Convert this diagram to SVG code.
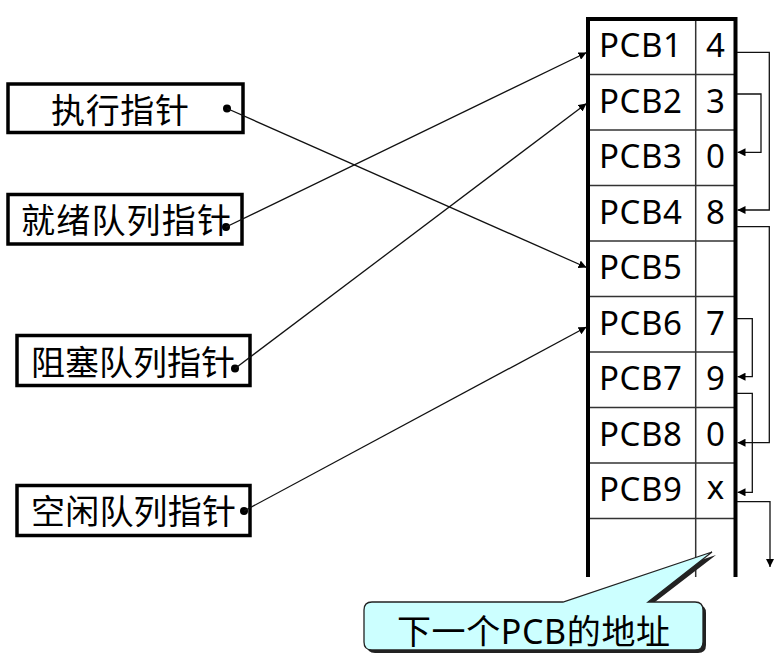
<svg xmlns="http://www.w3.org/2000/svg" width="780" height="656" viewBox="0 0 780 656">
<style>
.box{fill:#fff;stroke:#000;stroke-width:3.5}
.lbl{font-family:"Noto Sans","Noto Sans CJK SC",sans-serif;font-size:34px;fill:#000}
.cell{font-family:"Noto Sans","Noto Sans CJK SC",sans-serif;font-size:33px;fill:#000}
.val{font-family:"Noto Sans","Noto Sans CJK SC",sans-serif;font-size:33px;fill:#000;text-anchor:middle}
.thin{stroke:#333;stroke-width:1.5;fill:none}
.thick{stroke:#000;stroke-width:4;fill:none}
.conn{stroke:#111;stroke-width:1.3;fill:none}
.dot{fill:#000}
</style>
<defs>
<marker id="ah" viewBox="0 0 10 10" refX="10" refY="5" markerWidth="8" markerHeight="8" markerUnits="userSpaceOnUse" orient="auto">
<path d="M0,0 L10,5 L0,10 Z" fill="#000"/>
</marker>
</defs>

<g id="table">
<line class="thin" x1="588" y1="74.5" x2="735" y2="74.5"/>
<line class="thin" x1="588" y1="130" x2="735" y2="130"/>
<line class="thin" x1="588" y1="185.5" x2="735" y2="185.5"/>
<line class="thin" x1="588" y1="241" x2="735" y2="241"/>
<line class="thin" x1="588" y1="296.5" x2="735" y2="296.5"/>
<line class="thin" x1="588" y1="352" x2="735" y2="352"/>
<line class="thin" x1="588" y1="407.5" x2="735" y2="407.5"/>
<line class="thin" x1="588" y1="463" x2="735" y2="463"/>
<line class="thin" x1="588" y1="518.5" x2="735" y2="518.5"/>
<line class="thin" x1="695.7" y1="19" x2="695.7" y2="577"/>
<line class="thick" x1="588" y1="19" x2="735.5" y2="19"/>
<line class="thick" x1="588" y1="17" x2="588" y2="577"/>
<line class="thick" x1="735.5" y1="17" x2="735.5" y2="577"/>
<text class="cell" x="599" y="57" textLength="83">PCB1</text><text class="val" x="715.5" y="57">4</text>
<text class="cell" x="599" y="112.5" textLength="83">PCB2</text><text class="val" x="715.5" y="112.5">3</text>
<text class="cell" x="599" y="168" textLength="83">PCB3</text><text class="val" x="715.5" y="168">0</text>
<text class="cell" x="599" y="223.5" textLength="83">PCB4</text><text class="val" x="715.5" y="223.5">8</text>
<text class="cell" x="599" y="279" textLength="83">PCB5</text>
<text class="cell" x="599" y="334.5" textLength="83">PCB6</text><text class="val" x="715.5" y="334.5">7</text>
<text class="cell" x="599" y="390" textLength="83">PCB7</text><text class="val" x="715.5" y="390">9</text>
<text class="cell" x="599" y="445.5" textLength="83">PCB8</text><text class="val" x="715.5" y="445.5">0</text>
<text class="cell" x="599" y="501" textLength="83">PCB9</text><text class="val" x="715.5" y="499">x</text>
</g>

<g id="run-ptr">
<rect class="box" x="8" y="84" width="235" height="48.5"/>
<text class="lbl" x="51" y="123" textLength="138">执行指针</text>
<circle class="dot" cx="227" cy="108.5" r="4"/>
</g>
<g id="ready-ptr">
<rect class="box" x="8" y="194.5" width="234" height="49.5"/>
<text class="lbl" x="21" y="233" textLength="210">就绪队列指针</text>
<circle class="dot" cx="226" cy="227" r="4"/>
</g>
<g id="block-ptr">
<rect class="box" x="17" y="335.5" width="233" height="50"/>
<text class="lbl" x="31" y="375" textLength="204">阻塞队列指针</text>
<circle class="dot" cx="235" cy="368.5" r="4"/>
</g>
<g id="free-ptr">
<rect class="box" x="17" y="485.5" width="233" height="50"/>
<text class="lbl" x="31" y="524" textLength="205">空闲队列指针</text>
<circle class="dot" cx="244" cy="511" r="4"/>
</g>

<g id="connectors">
<line class="conn" x1="227" y1="108.5" x2="586.5" y2="267.5" marker-end="url(#ah)"/>
<line class="conn" x1="226" y1="227" x2="586.5" y2="52.5" marker-end="url(#ah)"/>
<line class="conn" x1="235" y1="368.5" x2="586.5" y2="103.5" marker-end="url(#ah)"/>
<line class="conn" x1="244" y1="511" x2="586.5" y2="327" marker-end="url(#ah)"/>
<polyline class="conn" points="737,52.3 769.3,52.3 769.3,210 737.5,210" marker-end="url(#ah)"/>
<polyline class="conn" points="737,94 761,94 761,152.3 737.5,152.3" marker-end="url(#ah)"/>
<polyline class="conn" points="737,226.7 769.3,226.7 769.3,442.7 737.5,442.7" marker-end="url(#ah)"/>
<polyline class="conn" points="737,318.7 752.3,318.7 752.3,376.7 737.5,376.7" marker-end="url(#ah)"/>
<polyline class="conn" points="737,393.3 752.3,393.3 752.3,492.3 737.5,492.3" marker-end="url(#ah)"/>
<polyline class="conn" points="737,501.7 770,501.7 770,567" marker-end="url(#ah)"/>
</g>

<g id="callout">
<path d="M375,605 L566,605 L716,555 L651,605 L698,605 Q706,605 706,613 L706,645 Q706,653 698,653 L375,653 Q367,653 367,645 L367,613 Q367,605 375,605 Z" fill="#222"/>
<path d="M372,602 L563,602 L712,552 L648,602 L695,602 Q703,602 703,610 L703,642 Q703,650 695,650 L372,650 Q364,650 364,642 L364,610 Q364,602 372,602 Z" fill="#ccffff" stroke="#222" stroke-width="1.3"/>
<text class="lbl" x="397" y="644" textLength="273">下一个PCB的地址</text>
</g>
</svg>
